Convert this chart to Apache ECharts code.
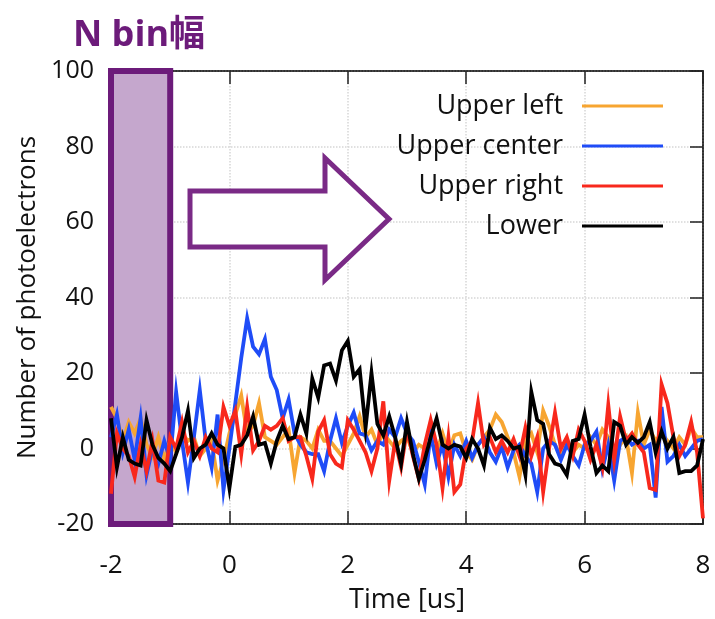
<!DOCTYPE html>
<html>
<head>
<meta charset="utf-8">
<script src="https://cdn.jsdelivr.net/npm/echarts@6/dist/echarts.min.js"></script>
<style>
  html, body { margin: 0; padding: 0; background: #fff; }
  #chart { width: 715px; height: 619px; }
</style>
</head>
<body>
<div id="chart"></div>
<script>
// Sample times in microseconds
const times = [
  -2.0, -1.9, -1.8, -1.7, -1.6, -1.5, -1.4, -1.3, -1.2, -1.1,
  -1.0, -0.9, -0.8, -0.7, -0.6, -0.5, -0.4, -0.3, -0.2, -0.1,
  0.0, 0.1, 0.2, 0.3, 0.4, 0.5, 0.6, 0.7, 0.8, 0.9,
  1.0, 1.1, 1.2, 1.3, 1.4, 1.5, 1.6, 1.7, 1.8, 1.9,
  2.0, 2.1, 2.2, 2.3, 2.4, 2.5, 2.6, 2.7, 2.8, 2.9,
  3.0, 3.1, 3.2, 3.3, 3.4, 3.5, 3.6, 3.7, 3.8, 3.9,
  4.0, 4.1, 4.2, 4.3, 4.4, 4.5, 4.6, 4.7, 4.8, 4.9,
  5.0, 5.1, 5.2, 5.3, 5.4, 5.5, 5.6, 5.7, 5.8, 5.9,
  6.0, 6.1, 6.2, 6.3, 6.4, 6.5, 6.6, 6.7, 6.8, 6.9,
  7.0, 7.1, 7.2, 7.3, 7.4, 7.5, 7.6, 7.7, 7.8, 7.9,
  8.0
];

// Photoelectron counts per PMT
const upperLeft = [
  11, 8, 2, 7, 4, 8, 1, -2, 3, -3,
  2, -1, 4, 2, 3, -2, 0, 2, -8.5, -3,
  4, 9, 14, 4, 6, 12, 3, 2, 1, 3,
  5, -6.5, 3, 2, 0, 5, 2, 2, 0, -2,
  1, 4, 8.5, 3, 5, 1, 4, 2, 0, 2,
  3, -1, 1, 0, 2, -1, 4, -1, 3.5, 4,
  -1, -3, 1, 3, 5, 9, 7, 3, -1, -7.5,
  2, 4, -1, 10, 6, 1, -2, 2, -1, 1,
  0, 3, 1, 5, 3, -3, 1, 3, -6.5, 9.5,
  1, 5, 2, 4, 2, 0, 3, 1, 5.5, 3,
  3
];
const upperCenter = [
  3, 9, -1, 5, -3, 8, -7, 0, -4, 2,
  -3, 15, 2, -9, 3, 15.5, 2, -5, 9, -11,
  0, 12, 24, 34.5, 27, 25, 29, 19, 15.5, 8,
  13, 4, 1, -1, -1.5, -1.5, -6, 2, 8, 1.5,
  6, 9.5, 4, 3.5, -0.5, 2, 1, 5, 3, 8,
  4, 2, -3.5, -9.5, 4, -4, 1, -7.5, 1, -2,
  2, -2.5, 1, 3, -1, -3.5, 0.5, -5, -0.5, 1,
  -2, -4, -11.5, 0, 2, 1, -3, 1, -2, -4.5,
  1, 2, 4.5, -5.5, 1, -8.5, 2, 3, 1, 2,
  0, 1, -13, 11, -3.5, -2, 1, -2, 0, 2,
  2.5
];
const upperRight = [
  -12, 4, 0, -2, -7.5, 1, -6, 2, -8.5, -9,
  3, 0, 7, -1, 2, -2, 3, 0, -1, 11,
  6, 10, -1.5, 11, -0.5, 2, 6, 5, 6, 8,
  2, 3, 3, -2, -8, 4.5, 7.5, -1.5, -4, -5,
  7.5, 5, 2, -1, -6, 0, 12.5, -8.5, 2, -5,
  5, -2, -8, 1, 7.5, 1, -10.5, 3, -11.5, -9.5,
  0, 2, 12, 1, 3, -1, 2, -1, 2.5, -2,
  5.5, -2, 3, -11.5, 0, 9.5, 0, 3, -2, 5,
  2, -3, 1, -5, 11.5, -3, 8.5, 2, 4, 1,
  -1, -10.5, -11, 17, 12, 3, -2, 1, 7, -1,
  -18.5
];
const lower = [
  8, -5, 3, -3, -4, -4.5, 7.5, 1, -2.5, -4,
  -6, -1.5, 3, 10, -2.5, 0, 1, 4, 1, 0,
  -10.5, 0.5, 1, 3.5, 8.5, 1, 1.5, -4, 2, 6,
  2.5, 3, 9, 4, 18.5, 13.5, 22, 22.5, 18, 26,
  28.5, 19, 21, 5.5, 20, 6.5, 3.5, 8.5, 3, -4,
  7, -1.5, -8, -3, 3, 8, 1, 0, 1, 0.5,
  -2.5, 2.5, 0, -4.5, 5.5, 2.5, 3.5, 2, 0, 0.5,
  -7, 15, 7.5, 6.5, -1.5, -4, -4.5, -7, 2, 2.5,
  9, 0.5, -6.5, -4.5, -6, 7, 6, 1, 3, 1.5,
  3, 7, -1, 4.5, 0, 3, -6.5, -6, -6, -4.5,
  2.5
];

const seriesNames = ['Upper left', 'Upper center', 'Upper right', 'Lower'];
const seriesValues = [upperLeft, upperCenter, upperRight, lower];
const seriesColors = ['#f7a531', '#1f4cf7', '#f8281c', '#000000'];

// Integration window highlighted on the plot
const binStart = -2;
const binEnd = -1;

const FONT = '"Open Sans", "Noto Sans CJK JP", sans-serif';
const X_MIN = -2, X_MAX = 8, X_STEP = 2;
const Y_MIN = -20, Y_MAX = 100, Y_STEP = 20;

const chart = echarts.init(document.getElementById('chart'), null, { renderer: 'canvas' });

const lineSeries = seriesNames.map((name, i) => ({
  name: name,
  type: 'line',
  xAxisIndex: 0,
  yAxisIndex: 0,
  showSymbol: false,
  symbol: 'none',
  animation: false,
  z: 3 + i,
  color: seriesColors[i],
  lineStyle: { color: seriesColors[i], width: 3.8, join: 'miter' },
  data: times.map((t, k) => [t, seriesValues[i][k]])
}));

// Shaded window (under the traces) and its outline (over the traces)
const windowFill = {
  name: 'window-fill',
  type: 'line',
  data: [],
  z: 1,
  silent: true,
  markArea: {
    silent: true,
    itemStyle: { color: '#c5a7cd', borderWidth: 0 },
    data: [[{ xAxis: binStart, yAxis: Y_MIN }, { xAxis: binEnd, yAxis: Y_MAX }]]
  }
};
const windowEdge = {
  name: 'window-edge',
  type: 'line',
  data: [],
  z: 10,
  silent: true,
  markArea: {
    silent: true,
    itemStyle: { color: 'rgba(0,0,0,0)', borderColor: '#6c1b7a', borderWidth: 6 },
    data: [[{ xAxis: binStart, yAxis: Y_MIN }, { xAxis: binEnd, yAxis: Y_MAX }]]
  }
};

const frameLine = { show: true, onZero: false, lineStyle: { color: '#222', width: 1.5 } };
const frameTick = { show: true, inside: true, length: 13, lineStyle: { color: '#222', width: 1.5 } };
const gridDots = { show: true, lineStyle: { color: '#d6d6d6', type: 'dotted', width: 1.5 } };

chart.setOption({
  animation: false,
  backgroundColor: '#ffffff',
  title: {
    text: 'N bin幅',
    left: 68,
    top: 13,
    textStyle: { fontFamily: FONT, fontSize: 36, fontWeight: 'bold', color: '#6c1b7a' }
  },
  grid: {
    left: 111, right: 12, top: 71, bottom: 92,
    show: true, borderColor: '#222', borderWidth: 1.5, backgroundColor: 'transparent'
  },
  legend: {
    data: seriesNames,
    orient: 'vertical',
    align: 'right',
    right: 47,
    top: 82,
    itemWidth: 81,
    itemHeight: 3,
    itemGap: 2,
    icon: 'rect',
    textStyle: { fontFamily: FONT, fontSize: 27, color: '#111', padding: [0, 14, 0, 0], lineHeight: 38 }
  },
  xAxis: [
    {
      type: 'value', min: X_MIN, max: X_MAX, interval: X_STEP,
      position: 'bottom',
      name: 'Time [us]',
      nameLocation: 'middle',
      nameGap: 63,
      nameTextStyle: { fontFamily: FONT, fontSize: 27, color: '#111' },
      axisLine: frameLine,
      axisTick: frameTick,
      axisLabel: { fontFamily: FONT, fontSize: 26, color: '#111', margin: 29 },
      splitLine: gridDots
    },
    {
      type: 'value', min: X_MIN, max: X_MAX, interval: X_STEP,
      position: 'top',
      axisLine: frameLine,
      axisTick: frameTick,
      axisLabel: { show: false },
      splitLine: { show: false }
    }
  ],
  yAxis: [
    {
      type: 'value', min: Y_MIN, max: Y_MAX, interval: Y_STEP,
      position: 'left',
      name: 'Number of photoelectrons',
      nameLocation: 'middle',
      nameGap: 62,
      nameTextStyle: { fontFamily: FONT, fontSize: 26, color: '#111' },
      axisLine: frameLine,
      axisTick: frameTick,
      axisLabel: { fontFamily: FONT, fontSize: 25, color: '#111', margin: 17 },
      splitLine: gridDots
    },
    {
      type: 'value', min: Y_MIN, max: Y_MAX, interval: Y_STEP,
      position: 'right',
      axisLine: frameLine,
      axisTick: frameTick,
      axisLabel: { show: false },
      splitLine: { show: false }
    }
  ],
  graphic: [{
    type: 'polygon',
    z: 20,
    shape: {
      points: [[190, 191], [325, 191], [325, 158], [389, 219], [325, 280], [325, 247], [190, 247]]
    },
    style: { fill: '#ffffff', stroke: '#7a2a86', lineWidth: 5, lineJoin: 'miter' }
  }],
  series: [windowFill].concat(lineSeries, [windowEdge])
});
</script>
</body>
</html>
